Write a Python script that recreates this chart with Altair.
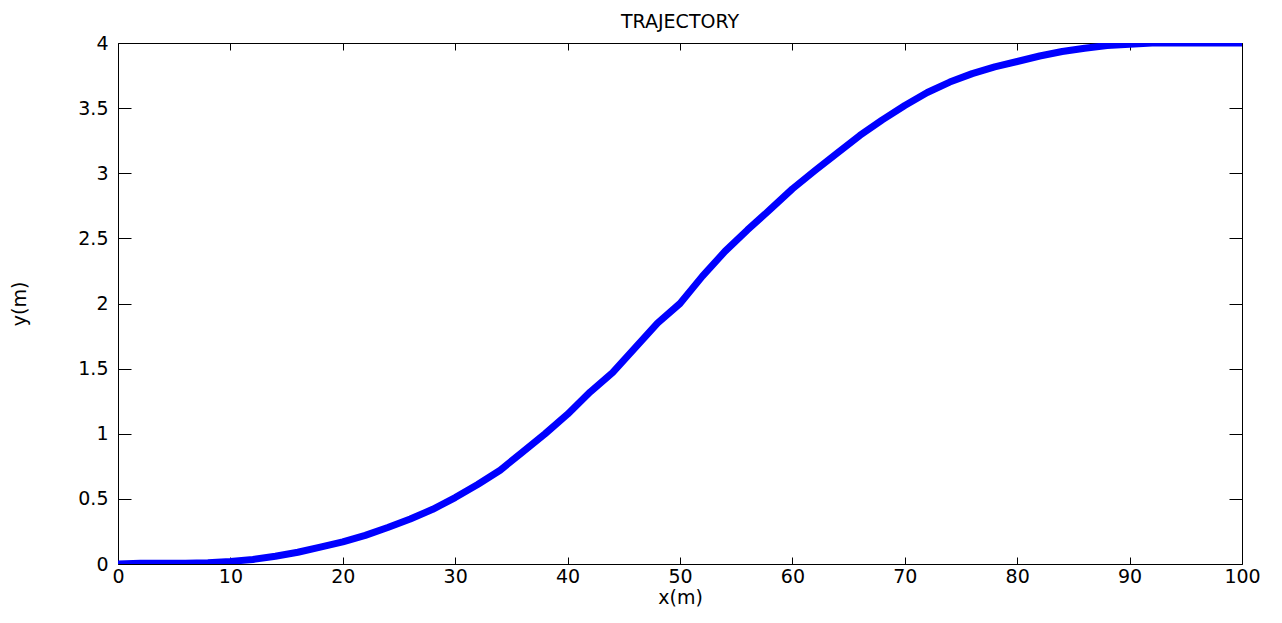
import altair as alt
import pandas as pd

# Trajectory samples
x_vals = [0, 2, 4, 6, 8, 10, 12, 14, 16, 18, 20, 22, 24, 26, 28, 30, 32, 34, 36, 38,
          40, 42, 44, 46, 48, 50, 52, 54, 56, 58, 60, 62, 64, 66, 68, 70, 72, 74, 76,
          78, 80, 82, 84, 86, 88, 90, 92, 94, 96, 98, 100]
y_vals = [0.0, 0.005, 0.005, 0.005, 0.01, 0.02, 0.035, 0.06, 0.09, 0.13, 0.17, 0.22,
          0.28, 0.345, 0.42, 0.51, 0.61, 0.72, 0.86, 1.00, 1.15, 1.32, 1.47, 1.66, 1.85,
          2.00, 2.21, 2.40, 2.565, 2.72, 2.88, 3.02, 3.155, 3.29, 3.41, 3.52, 3.62, 3.70,
          3.765, 3.817, 3.858, 3.90, 3.935, 3.96, 3.98, 3.99, 4.0, 4.0, 4.0, 4.0, 4.0]
x_ticks = [0, 10, 20, 30, 40, 50, 60, 70, 80, 90, 100]
y_ticks = [0, 0.5, 1, 1.5, 2, 2.5, 3, 3.5, 4]

df = pd.DataFrame({"x": x_vals, "y": y_vals})
FONT = "DejaVu Sans"

xs = alt.Scale(domain=[0, 100], nice=False, zero=False)
ys = alt.Scale(domain=[0, 4], nice=False, zero=False)

main = alt.Chart(df).mark_line(
    color="#0000FF", strokeWidth=7, clip=True, strokeJoin="round"
).encode(
    x=alt.X("x:Q", scale=xs, axis=alt.Axis(
        orient="bottom", values=x_ticks, format="d", offset=-7, tickSize=7,
        domain=False, grid=False, labelPadding=3, labelFlush=False,
        labelOverlap=False, labelFontSize=19, labelFont=FONT, labelColor="black",
        tickColor="black", title="x(m)", titleFontSize=19, titleFont=FONT,
        titleFontWeight="normal", titlePadding=2, titleColor="black")),
    y=alt.Y("y:Q", scale=ys, axis=alt.Axis(
        orient="left", values=y_ticks, format="~g", offset=-13, tickSize=13,
        domain=False, grid=False, labelPadding=10, labelFlush=False,
        labelOverlap=False, labelFontSize=19, labelFont=FONT, labelColor="black",
        tickColor="black", title="y(m)", titleFontSize=19, titleFont=FONT,
        titleFontWeight="normal", titlePadding=48, titleColor="black")),
)

frame = alt.Chart(df).mark_line(opacity=0).encode(
    x=alt.X("x:Q", scale=xs, axis=alt.Axis(
        orient="top", values=x_ticks, offset=-7, tickSize=7, domain=False,
        labels=False, grid=False, title=None, tickColor="black")),
    y=alt.Y("y:Q", scale=ys, axis=alt.Axis(
        orient="right", values=y_ticks, offset=-13, tickSize=13, domain=False,
        labels=False, grid=False, title=None, tickColor="black")),
)

chart = alt.layer(main, frame).resolve_axis(
    x="independent", y="independent"
).properties(
    width=1124, height=521,
    autosize=alt.AutoSizeParams(type="none"),
    padding={"left": 110, "top": 35, "right": 32, "bottom": 51},
    title=alt.Title("TRAJECTORY", fontSize=19, fontWeight="normal", font=FONT,
                    color="black", anchor="middle", offset=2),
).configure_view(stroke="black", strokeWidth=1)

chart.save("out.html", embed_options={"renderer": "svg", "actions": False})
